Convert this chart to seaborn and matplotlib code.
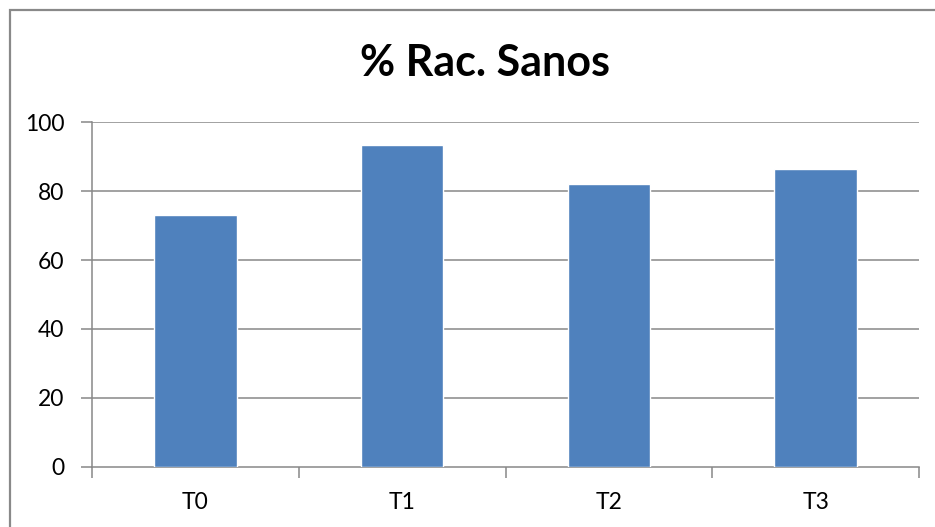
import matplotlib
matplotlib.use("Agg")
import matplotlib.pyplot as plt
import seaborn as sns
import pandas as pd
from matplotlib.patches import Rectangle

categories = ["T0", "T1", "T2", "T3"]
values = [73.0, 93.4, 82.0, 86.4]
y_ticks = [0, 20, 40, 60, 80, 100]
title = "% Rac. Sanos"

sns.set_theme(style="white")
plt.rcParams["font.family"] = ["Lato", "DejaVu Sans"]

W, H = 935, 527
fig = plt.figure(figsize=(W / 100, H / 100), dpi=100)
fig.patch.set_facecolor("white")

# outer chart frame
fig.patches.append(Rectangle((10 / W, -0.1), 1.2, 1.1 - 10 / H, transform=fig.transFigure,
                             fill=False, edgecolor="#898989", linewidth=1.6, zorder=0))

left, right = 92 / W, 919 / W
bottom, top = 1 - 466.7 / H, 1 - 122.3 / H
ax = fig.add_axes([left, bottom, right - left, top - bottom])

df = pd.DataFrame({"cat": categories, "val": values})
sns.barplot(data=df, x="cat", y="val", color="#4F81BD", saturation=1, width=0.4, ax=ax, zorder=3)

ax.set_xlim(-0.5, len(categories) - 0.5)
ax.set_ylim(0, 100)
ax.set_yticks(y_ticks)
ax.set_yticklabels([str(t) for t in y_ticks])
ax.set_xticks(range(len(categories)))
ax.set_xticklabels(categories)
ax.set_xlabel("")
ax.set_ylabel("")

for t in y_ticks[1:]:
    ax.axhline(t, color="#888888", linewidth=1.1, zorder=1)

for s in ["top", "right"]:
    ax.spines[s].set_visible(False)
for s in ["left", "bottom"]:
    ax.spines[s].set_color("#888888")
    ax.spines[s].set_linewidth(1.1)

ax.set_xticks([i - 0.5 for i in range(len(categories) + 1)], minor=True)
ax.tick_params(axis="y", which="both", left=True, length=8, width=1.1, color="#888888",
               pad=12, labelsize=16.5, labelcolor="black")
ax.tick_params(axis="x", which="major", bottom=True, length=0, pad=18,
               labelsize=16.5, labelcolor="black")
ax.tick_params(axis="x", which="minor", bottom=True, length=8, width=1.1, color="#888888")

fig.text((357 + 612) / 2 / W, 1 - 63 / H, title, ha="center", va="center",
         fontsize=31, fontweight="bold", color="black")

fig.savefig("out.png", dpi=100)
